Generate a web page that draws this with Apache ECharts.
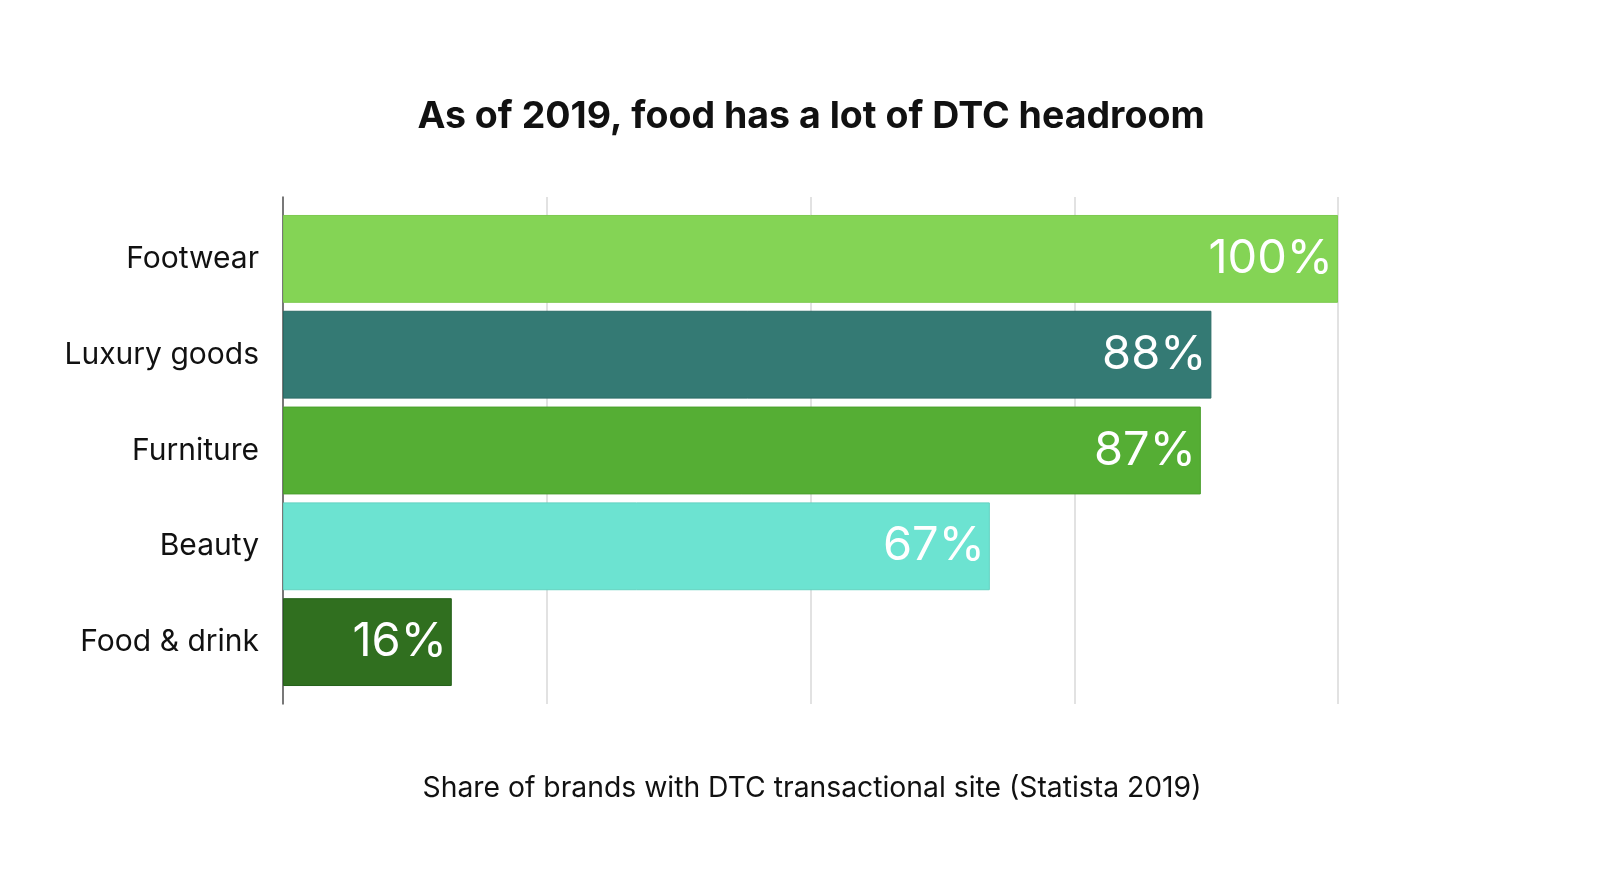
<!DOCTYPE html>
<html><head><meta charset="utf-8">
<script src="https://cdn.jsdelivr.net/npm/echarts@6/dist/echarts.min.js"></script>
<style>html,body{margin:0;padding:0;background:#fff}#c{width:1600px;height:894px}</style>
</head><body><div id="c"></div>
<script>
const categories = ["Footwear", "Luxury goods", "Furniture", "Beauty", "Food & drink"];
const values = [100, 88, 87, 67, 16];
const barColors = ["#84d455", "#347a74", "#55ae34", "#6ce3d1", "#306f1f"];
const borderColors = ["#7cc94f", "#2a6b65", "#4a9f2c", "#62d3c1", "#24611a"];
const xTicks = [0, 25, 50, 75, 100];
const titleText = "As of 2019, food has a lot of DTC headroom";
const subtitleText = "Share of brands with DTC transactional site (Statista 2019)";
const font = "Inter, 'Liberation Sans', sans-serif";

const chart = echarts.init(document.getElementById('c'));
chart.setOption({
  backgroundColor: '#fff',
  animation: false,
  title: [
    {text: titleText, left: 806, textAlign: 'center', top: 93, textStyle: {fontFamily: font, fontSize: 37.5, fontWeight: 'bold', color: '#111'}},
    {text: subtitleText, left: 807, textAlign: 'center', top: 769, textStyle: {fontFamily: font, fontSize: 28.3, fontWeight: 'normal', color: '#111'}}
  ],
  grid: [
    {left: 283, right: 262, top: 197, bottom: 190},
    {left: 283, right: 262, top: 211, bottom: 204}
  ],
  xAxis: [
    {gridIndex: 0, type: 'value', min: xTicks[0], max: xTicks[xTicks.length-1], interval: 25,
     axisLabel: {show: false}, axisTick: {show: false}, axisLine: {show: false},
     splitLine: {show: true, lineStyle: {color: '#d9d9d9', width: 1.5}}},
    {gridIndex: 1, type: 'value', min: xTicks[0], max: xTicks[xTicks.length-1],
     show: false, splitLine: {show: false}}
  ],
  yAxis: [
    {gridIndex: 0, type: 'category', data: [''], axisLabel: {show: false}, axisTick: {show: false},
     axisLine: {show: true, lineStyle: {color: '#555', width: 1.5}}},
    {gridIndex: 1, type: 'category', data: categories, inverse: true,
     axisLine: {show: false}, axisTick: {show: false},
     axisLabel: {fontFamily: font, fontSize: 30, color: '#111', margin: 24}}
  ],
  series: [{
    type: 'bar', xAxisIndex: 1, yAxisIndex: 1,
    barCategoryGap: '8.3%', z: 3,
    data: values.map((v, i) => ({value: v, itemStyle: {color: barColors[i], borderColor: borderColors[i], borderWidth: 1}})),
    label: {show: true, position: 'insideRight', distance: 5, formatter: '{c}%',
      fontFamily: font, fontSize: 47, color: '#fff'}
  }]
});
</script></body></html>
